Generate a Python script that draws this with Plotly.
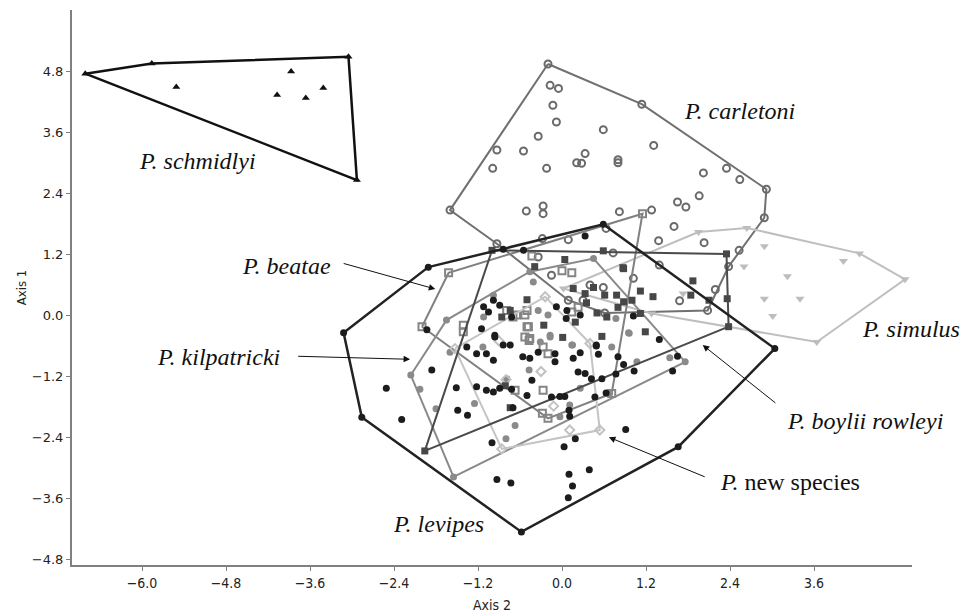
import plotly.graph_objects as go

# ---------------- data (Axis 2 = x, Axis 1 = y) ----------------
schmidlyi_hull = [(-6.81, 4.75), (-5.86, 4.95), (-3.05, 5.08), (-2.93, 2.66)]
schmidlyi_pts = [(-5.51, 4.49), (-3.87, 4.79), (-4.07, 4.33), (-3.66, 4.27), (-3.41, 4.47)]

carletoni_hull = [(-0.20, 4.94), (1.14, 4.15), (2.92, 2.48), (2.89, 1.92), (2.38, 0.96),
                  (2.08, 0.10), (0.61, 0.05), (0.09, 0.30), (-0.93, 1.41), (-1.60, 2.07)]
carletoni_pts = [(-0.17, 4.52), (-0.05, 4.46), (-0.13, 4.13), (-0.08, 3.80), (0.59, 3.65),
                 (-0.34, 3.52), (-0.93, 3.25), (-0.55, 3.23), (0.33, 3.18), (0.21, 3.00),
                 (0.28, 2.99), (0.80, 3.06), (0.80, 3.00), (1.31, 3.34), (-0.99, 2.89),
                 (-0.22, 2.89), (2.02, 2.80), (2.35, 2.89), (2.54, 2.67), (-0.51, 2.05),
                 (-0.27, 2.15), (-0.27, 2.00), (0.82, 2.04), (1.28, 2.07), (1.65, 2.23),
                 (1.77, 2.13), (1.96, 2.35), (1.60, 1.75), (1.38, 1.47), (2.03, 1.43),
                 (2.53, 1.28), (1.39, 0.99), (2.19, 0.51), (1.68, 0.29), (-0.28, 1.51),
                 (0.09, 1.49), (0.63, 1.71), (0.73, 1.23), (-0.34, 1.15), (-0.15, 0.79),
                 (0.59, 0.55), (0.40, 0.60), (1.02, 0.73), (0.30, 0.30)]

simulus_hull = [(1.95, 1.64), (2.64, 1.72), (4.25, 1.22), (4.90, 0.71), (3.64, -0.52),
                (1.28, 0.04), (0.02, 0.53)]
simulus_pts = [(1.73, 0.43), (2.89, 1.36), (2.60, 0.96), (4.02, 1.07), (3.22, 0.77),
               (2.89, 0.33), (3.40, 0.33), (3.01, -0.01)]

beatae_hull = [(-2.00, -0.22), (-1.62, 0.84), (1.15, 2.00), (0.71, -1.53), (-0.20, -2.02)]
beatae_pts = [(0.14, 0.84), (-0.43, 1.17), (-1.41, -0.19), (-1.41, -0.32), (-0.79, 0.10),
              (-0.70, -0.03), (-0.65, 0.01), (-0.53, 0.01), (-0.50, -0.22), (-0.53, -0.42),
              (-0.50, 0.10), (-0.48, -0.22), (-0.46, -0.45), (-0.27, -0.62), (0.14, 0.07),
              (0.23, 0.16), (-0.67, -1.47), (-0.27, -1.47), (-0.47, -0.49), (-0.28, -1.92),
              (0.00, 0.88), (-0.20, -0.75)]

kilpatricki_hull = [(-2.16, -1.17), (-1.65, -0.09), (-0.46, 0.86), (0.45, 1.12),
                    (1.76, -0.91), (-1.55, -3.17)]
kilpatricki_pts = [(-2.03, -1.45), (-1.80, -1.83), (-1.25, -1.73), (-1.60, -0.72), (-1.13, -0.62),
                   (-0.80, -2.42), (-0.67, -2.16), (-0.79, -1.24), (-0.47, -1.07), (-0.17, -0.42),
                   (0.15, -0.58), (0.71, -0.62), (0.96, -0.35), (1.07, -0.91), (1.54, -0.83),
                   (0.26, -1.43), (0.11, -1.76), (0.68, -1.53), (-1.12, -0.03), (-0.98, 0.40),
                   (-0.41, 0.66), (-0.34, 0.10), (-0.20, 0.01), (0.77, -0.06), (0.95, -0.34),
                   (-0.17, -0.39), (0.14, -0.58), (-0.31, -0.52), (-0.03, -1.99)]

newsp_hull = [(-1.53, -0.65), (-0.24, 0.37), (0.40, -0.55), (0.54, -2.25), (-0.86, -2.62)]
newsp_pts = [(0.11, -2.25), (-0.12, -1.78), (-0.80, -1.26), (-0.30, -1.10), (-0.90, -0.50)]

boylii_hull = [(-1.00, 1.28), (2.35, 1.21), (2.38, -0.22), (-1.96, -2.66)]
boylii_pts = [(0.59, 1.27), (0.04, 1.10), (-0.39, 0.96), (0.87, 0.94), (0.16, 0.53),
              (-0.50, 0.31), (1.87, 0.68), (1.84, 0.40), (2.10, 0.30), (2.36, 0.33),
              (1.12, 0.48), (1.30, 0.37), (0.61, 0.40), (0.78, 0.40), (0.88, 0.27),
              (0.80, 0.16), (0.33, 0.43), (1.12, 0.04), (0.19, -0.13), (-0.26, -0.19),
              (0.64, -0.03), (0.01, -0.43), (0.57, -0.41), (1.19, -0.32), (0.88, 0.92),
              (-0.86, -0.03), (-0.74, 0.10), (-0.81, -1.38), (-0.74, -1.81), (0.45, 0.55),
              (1.00, 0.30), (0.35, 0.25), (0.50, 0.05)]

levipes_hull = [(-1.91, 0.95), (0.59, 1.79), (3.04, -0.65), (1.66, -2.58), (-0.58, -4.25),
                (-2.86, -2.00), (-3.12, -0.34)]
levipes_pts = [(-2.51, -1.43), (-2.29, -2.04), (-1.86, -1.07), (-1.51, -1.42), (-1.49, -1.86),
               (-1.35, -1.96), (-1.00, -2.50), (-0.93, -3.22), (-0.73, -3.29), (-1.36, -0.62),
               (-1.22, -0.75), (-1.08, -0.75), (-0.96, -0.42), (-0.84, -0.58), (-0.56, -0.81),
               (-0.46, -0.84), (-0.34, -0.72), (-0.98, -0.88), (-1.22, -1.40), (-1.08, -1.47),
               (-0.98, -1.50), (-0.89, -1.43), (-0.72, -1.45), (-0.50, -1.57), (-0.43, -1.27),
               (-0.15, -1.60), (-0.70, -1.81), (0.49, -0.60), (0.26, -0.73), (0.52, -0.76),
               (-0.10, -0.75), (-0.10, -0.91), (0.16, -0.84), (0.80, -0.81), (0.88, -0.96),
               (1.03, -1.09), (0.23, -1.11), (0.33, -1.14), (0.42, -1.24), (0.57, -1.24),
               (0.77, -1.15), (1.39, -0.47), (1.65, -0.80), (1.58, -1.09), (-0.03, -1.59),
               (0.04, -1.59), (0.47, -1.60), (0.63, -1.52), (0.10, -1.86), (0.11, -1.98),
               (0.91, -2.24), (0.19, -2.42), (0.03, -2.58), (0.10, -3.12), (0.39, -3.03),
               (0.15, -3.35), (0.09, -3.58), (0.33, 1.56), (-1.12, 0.17), (-1.05, 0.07),
               (-0.98, 0.30), (-0.89, 0.20), (-0.72, -0.03), (-1.93, -0.28), (-1.15, -0.26),
               (-0.96, -0.39), (-0.74, -0.58), (-0.55, 1.28), (-0.84, 1.30), (-0.08, 0.17),
               (0.07, 0.10), (0.26, 0.01), (0.06, -0.06), (1.02, -0.01), (0.49, -0.58)]

x_ticks = [-6.0, -4.8, -3.6, -2.4, -1.2, 0.0, 1.2, 2.4, 3.6]
y_ticks = [-4.8, -3.6, -2.4, -1.2, 0.0, 1.2, 2.4, 3.6, 4.8]

labels = [  # text, x, y
    ("<i>P. schmidlyi</i>", -5.21, 3.03),
    ("<i>P. carletoni</i>", 2.54, 4.01),
    ("<i>P. beatae</i>", -3.93, 0.97),
    ("<i>P. kilpatricki</i>", -4.91, -0.82),
    ("<i>P. simulus</i>", 4.99, -0.27),
    ("<i>P. boylii rowleyi</i>", 4.33, -2.08),
    ("<i>P.</i> new species", 3.26, -3.26),
    ("<i>P. levipes</i>", -1.77, -4.10),
]
arrows = [  # tip x, tip y, tail x, tail y
    (-1.81, 0.52, -3.14, 1.03),
    (-2.17, -0.86, -3.79, -0.80),
    (2.01, -0.58, 3.07, -1.74),
    (0.67, -2.39, 2.06, -3.18),
]

# ---------------- styles ----------------
groups = [
    ("carletoni", carletoni_hull, carletoni_pts, "circle-open", "#6a6a6a", "#707070", 2, 7),
    ("simulus", simulus_hull, simulus_pts, "triangle-down", "#bdbdbd", "#bfbfbf", 2, 8),
    ("beatae", beatae_hull, beatae_pts, "square-open", "#858585", "#808080", 2, 7),
    ("kilpatricki", kilpatricki_hull, kilpatricki_pts, "circle", "#8a8a8a", "#8a8a8a", 2, 7),
    ("newsp", newsp_hull, newsp_pts, "diamond-open", "#c2c2c2", "#c4c4c4", 2, 7),
    ("boylii", boylii_hull, boylii_pts, "square", "#474747", "#4a4a4a", 2, 7),
    ("levipes", levipes_hull, levipes_pts, "circle", "#1c1c1c", "#222222", 2.5, 7),
    ("schmidlyi", schmidlyi_hull, schmidlyi_pts, "triangle-up", "#111111", "#111111", 2.5, 7),
]

fig = go.Figure()
for name, hull, pts, sym, mcol, lcol, lw, ms in groups:
    hx = [p[0] for p in hull] + [hull[0][0]]
    hy = [p[1] for p in hull] + [hull[0][1]]
    fig.add_trace(go.Scatter(x=hx, y=hy, mode="lines", line=dict(color=lcol, width=lw),
                             hoverinfo="skip", showlegend=False))
    allp = hull + pts
    mk = dict(symbol=sym, size=ms, color=mcol)
    if sym.endswith("open"):
        mk["line"] = dict(color=mcol, width=2)
    else:
        mk["line"] = dict(width=0)
    fig.add_trace(go.Scatter(x=[p[0] for p in allp], y=[p[1] for p in allp], mode="markers",
                             marker=mk, name=name, showlegend=False))

for t, x, y in labels:
    fig.add_annotation(x=x, y=y, text=t, showarrow=False, xanchor="center", yanchor="middle",
                       font=dict(family="Liberation Serif, Times New Roman, serif", size=24, color="#111"))
for tx, ty, ax, ay in arrows:
    fig.add_annotation(x=tx, y=ty, ax=ax, ay=ay, axref="x", ayref="y", xref="x", yref="y",
                       text="", showarrow=True, arrowhead=2, arrowsize=1.3, arrowwidth=1,
                       arrowcolor="#111")

axis_common = dict(showgrid=False, zeroline=False, showline=True, linecolor="#808080",
                   linewidth=2, ticks="outside", ticklen=4, tickcolor="#808080", tickwidth=1,
                   mirror=False, automargin=False)
fig.update_xaxes(range=[-7.0, 5.0], tickvals=x_ticks, tickformat=".1f",
                 tickfont=dict(family="Liberation Sans Narrow, DejaVu Sans Condensed, sans-serif", size=14, color="#222"),
                 title=dict(text="Axis 2", standoff=12,
                            font=dict(family="Liberation Sans Narrow, DejaVu Sans Condensed, sans-serif", size=14, color="#222")),
                 **axis_common)
fig.update_yaxes(range=[-4.9, 6.0], tickvals=y_ticks, tickformat=".1f",
                 tickfont=dict(family="DejaVu Sans, sans-serif", size=13, color="#222"),
                 title=dict(text="Axis 1", standoff=2,
                            font=dict(family="DejaVu Sans Condensed, sans-serif", size=13, color="#222")),
                 **axis_common)
# page body adds an 8px offset; margins compensate so the plot lands where the reference has it
fig.update_layout(width=961, height=605, margin=dict(l=64, r=57, t=2, b=48),
                  plot_bgcolor="white", paper_bgcolor="white", showlegend=False)
fig.write_html("out.html")
